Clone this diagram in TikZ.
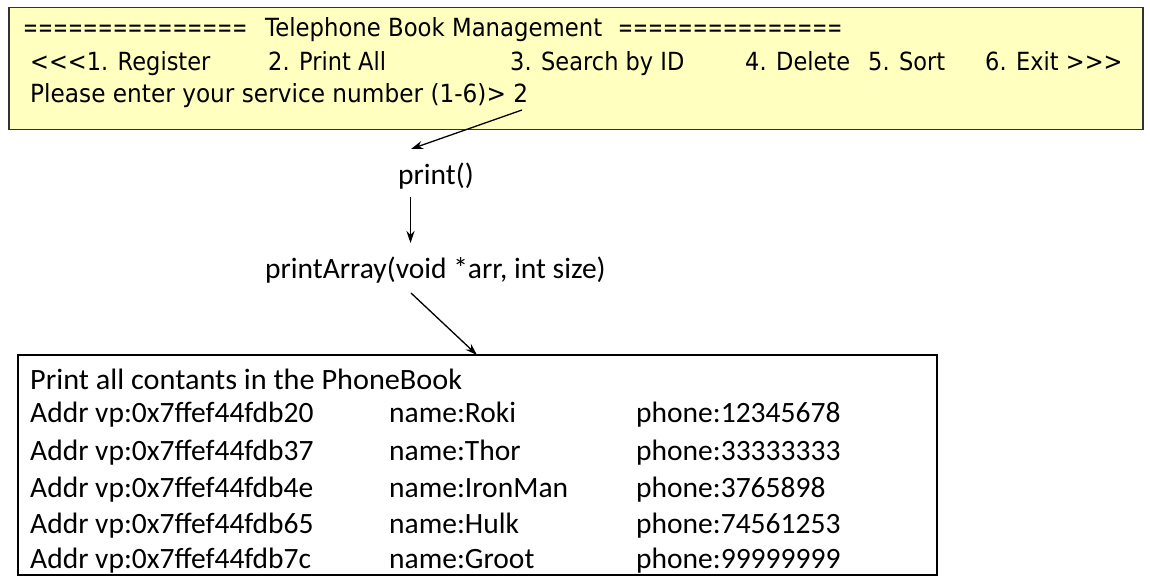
\documentclass[tikz,border=0pt]{standalone}
\usepackage{fontspec}
\setmainfont{Carlito}
\newfontfamily\tahomaish[FakeStretch=0.9]{DejaVu Sans}
\usetikzlibrary{arrows.meta}
\definecolor{menuyellow}{RGB}{255,255,192}
\definecolor{menuborder}{RGB}{50,50,50}
\tikzset{
  menutext/.style={anchor=base west, inner sep=0pt, font=\tahomaish\fontsize{25bp}{29bp}\selectfont},
  calltext/.style={anchor=base west, inner sep=0pt, font=\fontsize{29.5bp}{34bp}\selectfont},
  outtext/.style={anchor=base west, inner sep=0pt, font=\fontsize{29.5bp}{34bp}\selectfont},
  arr/.style={draw=black, line width=1.3bp, -{Stealth[length=12bp,width=8bp]}},
}
\newcommand{\eqrun}{\resizebox{224bp}{\height}{===============}}
\begin{document}
\begin{tikzpicture}[x=1bp,y=-1bp]
\useasboundingbox (0,0) rectangle (1150,584);
% top menu box
\node[draw=menuborder, line width=1.8bp, fill=menuyellow, minimum width=1134bp, minimum height=122bp, inner sep=0pt] (menu) at (576,68.5) {};
\node[menutext] (eqL) at (23,37) {\eqrun};
\node[menutext] (title) at (265,37) {\resizebox{337bp}{\height}{Telephone Book Management}};
\node[menutext] (eqR) at (618,37) {\eqrun};
\node[menutext] (m1) at (30,71) {<<<1. Register};
\node[menutext] (m2) at (268,71) {2. Print All};
\node[menutext] (m3) at (510,71) {3. Search by ID};
\node[menutext] (m4) at (745,71) {4. Delete};
\node[menutext] (m5) at (868,71) {5. Sort};
\node[menutext] (m6) at (985,71) {6. Exit >>>};
\node[menutext] (l3) at (30,103) {\resizebox{498bp}{\height}{Please enter your service number (1-6)> 2}};
% calls
\node[calltext] (print) at (398,185) {print()};
\node[calltext] (parr) at (265,279) {printArray(void *arr, int size)};
% output box
\node[draw=black, line width=1.5bp, minimum width=919bp, minimum height=220bp, inner sep=0pt] (out) at (477.5,465) {};
\node[outtext] (t0) at (30,389) {\resizebox{432bp}{\height}{Print all contants in the PhoneBook}};
\node[outtext] (a1) at (30,422) {Addr vp:0x7ffef44fdb20};
\node[outtext] (n1) at (389,422) {name:Roki};
\node[outtext] (p1) at (636,422) {phone:12345678};
\node[outtext] (a2) at (30,460) {Addr vp:0x7ffef44fdb37};
\node[outtext] (n2) at (389,460) {name:Thor};
\node[outtext] (p2) at (636,460) {phone:33333333};
\node[outtext] (a3) at (30,497) {Addr vp:0x7ffef44fdb4e};
\node[outtext] (n3) at (389,497) {name:IronMan};
\node[outtext] (p3) at (636,497) {phone:3765898};
\node[outtext] (a4) at (30,533) {Addr vp:0x7ffef44fdb65};
\node[outtext] (n4) at (389,533) {name:Hulk};
\node[outtext] (p4) at (636,533) {phone:74561253};
\node[outtext] (a5) at (30,568) {Addr vp:0x7ffef44fdb7c};
\node[outtext] (n5) at (389,568) {name:Groot};
\node[outtext] (p5) at (636,568) {phone:99999999};
% connectors
\coordinate (c1s) at (522,110);
\coordinate (c1e) at (411,149);
\coordinate (c2s) at (410.5,197);
\coordinate (c2e) at (410.5,243);
\coordinate (c3s) at (411,293);
\coordinate (c3e) at (477,355);
\draw[arr] (c1s) -- (c1e);
\draw[arr] (c2s) -- (c2e);
\draw[arr] (c3s) -- (c3e);
\end{tikzpicture}
\end{document}
